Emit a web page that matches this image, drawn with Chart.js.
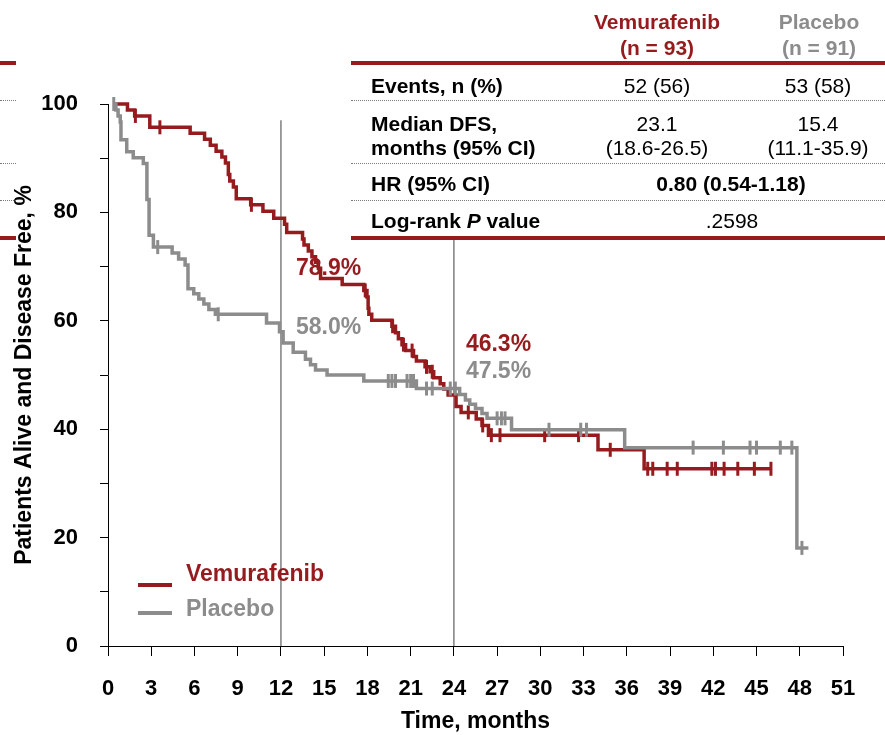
<!DOCTYPE html>
<html>
<head>
<meta charset="utf-8">
<script src="https://cdn.jsdelivr.net/npm/chart.js@4.4.1/dist/chart.umd.min.js"></script>
<style>
  html, body { margin: 0; padding: 0; background: #fff; }
  #wrap { position: relative; width: 885px; height: 735px; overflow: hidden;
          font-family: "Liberation Sans", Arial, sans-serif; }
  #km { position: absolute; left: 0; top: 0; }
  .t { position: absolute; white-space: nowrap; font-size: 21px; line-height: 1; color: #000; }
  .c { transform: translate(-50%, -50%); text-align: center; }
  .l { transform: translateY(-50%); }
  .b { font-weight: bold; }
  .red { color: #961B1E; }
  .gray { color: #8C8C8C; }
  .rule-red { position: absolute; height: 4px; background: #961B1E; }
  .rule-dot { position: absolute; height: 0; border-top: 1px dotted #7a7a7a; }
  .leg-line { position: absolute; height: 4px; width: 34px; }
  .leg-text { position: absolute; white-space: nowrap; font-size: 23px; font-weight: bold;
              line-height: 1; transform: translateY(-50%); }
</style>
</head>
<body>
<div id="wrap">
  <canvas id="km" width="885" height="735"></canvas>

  <!-- summary table -->
  <div class="rule-red" style="left:0;width:16px;top:61px"></div>
  <div class="rule-dot" style="left:0;width:16px;top:100px"></div>
  <div class="rule-dot" style="left:0;width:16px;top:163px"></div>
  <div class="rule-dot" style="left:0;width:16px;top:200px"></div>
  <div class="rule-red" style="left:0;width:16px;top:236px"></div>

  <div class="t c b red"  style="left:657px;top:21px">Vemurafenib</div>
  <div class="t c b red"  style="left:657px;top:47px">(n = 93)</div>
  <div class="t c b gray" style="left:819px;top:21px">Placebo</div>
  <div class="t c b gray" style="left:819px;top:47px">(n = 91)</div>

  <div class="rule-red" style="left:351px;width:534px;top:61px"></div>
  <div class="t l b" style="left:371px;top:85px">Events, n (%)</div>
  <div class="t c"   style="left:657px;top:85px">52 (56)</div>
  <div class="t c"   style="left:818px;top:85px">53 (58)</div>

  <div class="rule-dot" style="left:351px;width:534px;top:100px"></div>
  <div class="t l b" style="left:371px;top:123px">Median DFS,</div>
  <div class="t l b" style="left:371px;top:147px">months (95% CI)</div>
  <div class="t c"   style="left:657px;top:123px">23.1</div>
  <div class="t c"   style="left:657px;top:147px">(18.6-26.5)</div>
  <div class="t c"   style="left:818px;top:123px">15.4</div>
  <div class="t c"   style="left:818px;top:147px">(11.1-35.9)</div>

  <div class="rule-dot" style="left:351px;width:534px;top:163px"></div>
  <div class="t l b" style="left:371px;top:183px">HR (95% CI)</div>
  <div class="t c b" style="left:731px;top:183px">0.80 (0.54-1.18)</div>

  <div class="rule-dot" style="left:351px;width:534px;top:200px"></div>
  <div class="t l b" style="left:371px;top:220px">Log-rank <i>P</i> value</div>
  <div class="t c"   style="left:732px;top:220px">.2598</div>
  <div class="rule-red" style="left:351px;width:534px;top:236px"></div>

  <!-- legend -->
  <div class="leg-line" style="left:138px;top:583px;background:#961B1E"></div>
  <div class="leg-text red" style="left:186px;top:573px">Vemurafenib</div>
  <div class="leg-line" style="left:138px;top:611px;background:#8C8C8C"></div>
  <div class="leg-text gray" style="left:186px;top:608px">Placebo</div>
</div>

<script>
// Kaplan-Meier disease-free survival, time in months, survival in %
const vemuTimes = [0.35, 1.35, 1.85, 2.9, 5.7, 6.7, 7.1, 7.5, 7.9, 8.15, 8.35, 8.45, 8.7, 8.9,
  9.9, 10.75, 11.5, 12.25, 12.4, 13.5, 13.6, 13.9, 14.15, 14.4, 14.6, 14.75, 16.25, 17.75,
  17.97, 18.05, 18.1, 18.3, 19.7, 19.95, 20.15, 20.4, 20.65, 21.2, 21.4, 22.0, 22.35, 22.6,
  23.05, 23.3, 23.6, 24.15, 24.5, 25.55, 25.95, 26.4, 34.0, 37.2, 46.0];
const vemuSurv = [100, 98.9, 97.8, 95.7, 94.6, 93.5, 92.4, 91.3, 90.2, 89.1, 87.0, 85.8, 84.7, 82.5,
  81.4, 80.2, 78.9, 77.8, 76.3, 75.1, 74.0, 72.9, 71.8, 70.8, 69.7, 67.8, 66.7, 65.6,
  64.4, 62.3, 61.2, 60.1, 59.0, 57.8, 56.7, 55.6, 54.5, 53.4, 52.6, 51.5, 50.6, 49.5,
  48.4, 47.4, 46.3, 44.2, 43.1, 41.9, 40.7, 38.9, 36.2, 32.7, 32.7];
const vemuCensored = [1.9, 3.6, 9.95, 17.85, 19.75, 20.5, 21.1, 22.1, 22.5, 25.0, 26.0, 26.6,
  27.2, 30.3, 32.65, 34.85, 37.45, 37.8, 38.8, 39.5, 41.9, 42.15, 42.75, 43.7, 44.85, 46.0];

const placeboTimes = [0.35, 0.55, 0.7, 0.85, 0.9, 1.3, 1.75, 2.45, 2.7, 2.85, 3.15, 4.45, 4.9,
  5.35, 5.55, 5.95, 6.3, 6.65, 7.0, 7.45, 11.0, 11.9, 12.15, 12.85, 13.7, 14.05, 14.4, 15.2,
  17.75, 21.4, 24.4, 24.8, 25.1, 25.5, 25.95, 26.3, 28.0, 35.85, 47.8, 48.6];
const placeboSurv = [100, 98.9, 97.8, 96.7, 93.4, 91.2, 90.1, 89.0, 82.4, 75.8, 73.6, 72.5, 71.4,
  70.3, 65.9, 65.0, 64.0, 63.1, 62.1, 61.2, 59.6, 58.0, 55.9, 54.2, 52.9, 51.9, 50.9, 50.0,
  48.9, 47.5, 46.4, 45.4, 44.6, 43.8, 42.9, 42.0, 39.9, 36.6, 18.1, 18.1];
const placeboCensored = [0.4, 3.45, 7.65, 19.45, 19.7, 19.95, 20.75, 21.0, 21.2, 22.1, 22.5,
  23.75, 24.1, 27.0, 27.3, 27.55, 30.6, 32.8, 33.2, 40.6, 42.7, 44.55, 45.0, 46.65, 47.45, 48.15];

// landmark estimates at 12 and 24 months
const landmarkMonths = [12, 24];
const vemuLandmark = [78.9, 46.3];
const placeboLandmark = [58.0, 47.5];

// axis ticks
const xTickValues = [0, 3, 6, 9, 12, 15, 18, 21, 24, 27, 30, 33, 36, 39, 42, 45, 48, 51];
const yTickValues = [0, 10, 20, 30, 40, 50, 60, 70, 80, 90, 100];
const yTickLabels = ['0', '', '20', '', '40', '', '60', '', '80', '', '100'];

// styling
const RED = '#961B1E';
const GRAY = '#8C8C8C';
const FONT = '"Liberation Sans", Arial, sans-serif';
const REF_TOP = [97, 75];           // upper end of the landmark guide lines (%)
const LABEL_POS = [                 // pixel placement of the landmark labels
  { dx: 15, redY: 269, grayY: 328 },
  { dx: 12, redY: 345, grayY: 372 }
];

const toPoints = (t, s) => t.map((v, i) => ({ x: v, y: s[i] }));
// survival level of a step curve at time t
const levelAt = (t, times, surv) => {
  let v = surv[0];
  for (let i = 0; i < times.length; i++) { if (times[i] <= t) v = surv[i]; }
  return v;
};
const censorPoints = (c, times, surv) => c.map(t => ({ x: t, y: levelAt(t, times, surv) }));

const curve = (label, t, s, color, order) => ({
  label, data: toPoints(t, s), borderColor: color, borderWidth: 3.5,
  pointRadius: 0, stepped: 'before', fill: false, tension: 0, order, clip: false,
  borderCapStyle: 'butt', borderJoinStyle: 'miter'
});
const marks = (label, c, t, s, color, order) => ({
  label, data: censorPoints(c, t, s), showLine: false, pointStyle: 'line',
  pointRotation: 90, pointRadius: 7, pointBorderWidth: 3, pointBorderColor: color,
  pointBackgroundColor: color, borderColor: color, order, clip: false
});
const guides = landmarkMonths.map((m, i) => ({
  label: 'guide' + m, data: [{ x: m, y: 0 }, { x: m, y: REF_TOP[i] }],
  borderColor: '#7F7F7F', borderWidth: 1.5, pointRadius: 0, order: 10, clip: false
}));

const landmarkLabels = {
  id: 'landmarkLabels',
  afterDatasetsDraw(chart) {
    const { ctx, scales: { x } } = chart;
    ctx.save();
    ctx.font = 'bold 23px ' + FONT;
    ctx.textAlign = 'left';
    ctx.textBaseline = 'middle';
    landmarkMonths.forEach((m, i) => {
      const px = x.getPixelForValue(m) + LABEL_POS[i].dx;
      ctx.fillStyle = RED;
      ctx.fillText(vemuLandmark[i].toFixed(1) + '%', px, LABEL_POS[i].redY);
      ctx.fillStyle = GRAY;
      ctx.fillText(placeboLandmark[i].toFixed(1) + '%', px, LABEL_POS[i].grayY);
    });
    ctx.restore();
  }
};

new Chart(document.getElementById('km'), {
  type: 'line',
  data: {
    datasets: [
      marks('Placebo censored', placeboCensored, placeboTimes, placeboSurv, GRAY, 0),
      curve('Placebo', placeboTimes, placeboSurv, GRAY, 1),
      marks('Vemurafenib censored', vemuCensored, vemuTimes, vemuSurv, RED, 2),
      curve('Vemurafenib', vemuTimes, vemuSurv, RED, 3),
      ...guides
    ]
  },
  options: {
    responsive: false,
    animation: false,
    events: [],
    layout: { padding: { top: 104, right: 42, bottom: 0, left: 0 } },
    plugins: { legend: { display: false }, tooltip: { enabled: false } },
    scales: {
      x: {
        type: 'linear', min: 0, max: 51,
        afterBuildTicks: s => { s.ticks = xTickValues.map(v => ({ value: v })); },
        afterFit: s => { s.height = 89; },
        ticks: { color: '#000', font: { family: FONT, size: 22, weight: 'bold' }, padding: 20,
                 maxRotation: 0, autoSkip: false },
        grid: { drawOnChartArea: false, tickLength: 10, color: '#000', lineWidth: 1 },
        border: { color: '#000', width: 1 },
        title: { display: true, text: 'Time, months', color: '#000',
                 font: { family: FONT, size: 23, weight: 'bold' }, padding: { top: 0, bottom: 0 } }
      },
      y: {
        type: 'linear', min: 0, max: 100,
        afterBuildTicks: s => { s.ticks = yTickValues.map(v => ({ value: v })); },
        afterFit: s => { s.width = 108; },
        ticks: { color: '#000', font: { family: FONT, size: 22, weight: 'bold' }, padding: 22,
                 autoSkip: false,
                 callback: v => yTickLabels[yTickValues.indexOf(v)] ?? '' },
        grid: { drawOnChartArea: false, tickLength: 8, color: '#000', lineWidth: 1 },
        border: { color: '#000', width: 1 },
        title: { display: true, text: 'Patients Alive and Disease Free, %', color: '#000',
                 font: { family: FONT, size: 23, weight: 'bold' }, padding: { top: 11, bottom: 0 } }
      }
    }
  },
  plugins: [landmarkLabels]
});
</script>
</body>
</html>
